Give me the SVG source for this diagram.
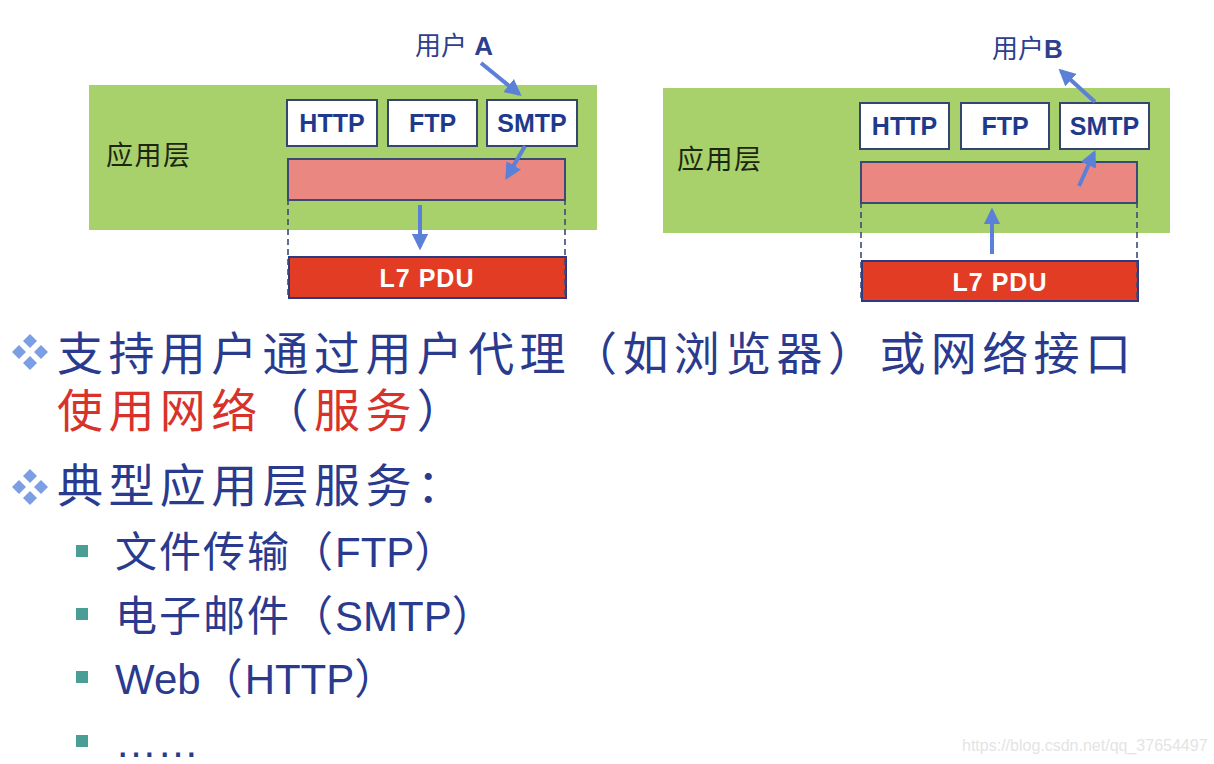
<svg xmlns="http://www.w3.org/2000/svg" width="1214" height="764" viewBox="0 0 1214 764">
<defs>
<style>
.layer{fill:#a8d16c;}
.proto{fill:#ffffff;stroke:#34466f;stroke-width:2;}
.ptxt{font-family:"Liberation Sans",Arial,sans-serif;font-weight:bold;font-size:25px;fill:#1f3a8c;text-anchor:middle;}
.pink{fill:#eb8781;stroke:#3b4a72;stroke-width:2;}
.pdu{fill:#e23c24;stroke:#2d3a80;stroke-width:2;}
.pdutxt{font-family:"Liberation Sans",Arial,sans-serif;font-weight:bold;font-size:25px;fill:#ffffff;text-anchor:middle;letter-spacing:1px;}
.dash{stroke:#3d4a7a;stroke-width:1.6;stroke-dasharray:6 4;fill:none;}
.lbl{font-family:"Noto Sans CJK SC","Liberation Sans",sans-serif;font-size:27px;fill:#1e2612;letter-spacing:1.5px;}
.user{font-family:"Liberation Sans","Noto Sans CJK SC",sans-serif;font-size:26px;fill:#2d3f8e;}
.arr{stroke:#5a80d8;stroke-width:4;fill:none;marker-end:url(#ah);}
.main{font-family:"Liberation Sans","Noto Sans CJK SC",sans-serif;font-size:46px;fill:#2a3b8f;letter-spacing:5.4px;}
.red{fill:#d7332b;}
.sub{font-family:"Liberation Sans","Noto Sans CJK SC",sans-serif;font-size:42px;fill:#2a3b8f;}
.cj{letter-spacing:2px;}
.dia{fill:#7c9ee3;}
.sq{fill:#4a9e96;}
</style>
<marker id="ah" viewBox="0 0 10 10" refX="8" refY="5" markerWidth="4.2" markerHeight="4.2" orient="auto" markerUnits="strokeWidth">
<path d="M0,0 L10,5 L0,10 z" fill="#5a80d8"/>
</marker>
</defs>
<rect width="1214" height="764" fill="#ffffff"/>

<!-- Left panel -->
<g id="left-layer">
<rect class="layer" x="89" y="85" width="508" height="145"/>
<text class="lbl" x="106" y="165">应用层</text>
</g>
<g id="left-http"><rect class="proto" x="287" y="100" width="90" height="46"/><text class="ptxt" x="332" y="132">HTTP</text></g>
<g id="left-ftp"><rect class="proto" x="388" y="100" width="89" height="46"/><text class="ptxt" x="432.5" y="132">FTP</text></g>
<g id="left-smtp"><rect class="proto" x="487" y="100" width="90" height="46"/><text class="ptxt" x="532" y="132">SMTP</text></g>
<g id="left-msg"><rect class="pink" x="288" y="159" width="277" height="41"/></g>
<g id="left-pdu"><rect class="pdu" x="289" y="257" width="277" height="41"/><text class="pdutxt" x="427" y="287">L7 PDU</text></g>
<g id="user-a"><text class="user" x="415" y="55">用户 <tspan font-weight="bold">A</tspan></text></g>

<!-- Right panel -->
<g id="right-layer">
<rect class="layer" x="663" y="88" width="507" height="145"/>
<text class="lbl" x="677" y="169">应用层</text>
</g>
<g id="right-http"><rect class="proto" x="860" y="103" width="89" height="46"/><text class="ptxt" x="904.5" y="135">HTTP</text></g>
<g id="right-ftp"><rect class="proto" x="961" y="103" width="88" height="46"/><text class="ptxt" x="1005" y="135">FTP</text></g>
<g id="right-smtp"><rect class="proto" x="1060" y="103" width="89" height="46"/><text class="ptxt" x="1104.5" y="135">SMTP</text></g>
<g id="right-msg"><rect class="pink" x="861" y="162" width="276" height="41"/></g>
<g id="right-pdu"><rect class="pdu" x="862" y="261" width="276" height="40"/><text class="pdutxt" x="1000" y="291">L7 PDU</text></g>
<g id="user-b"><text class="user" x="992" y="58">用户<tspan font-weight="bold">B</tspan></text></g>

<!-- Connectors -->
<g id="connectors">
<line class="dash" x1="288" y1="159" x2="288" y2="298"/>
<line class="dash" x1="565" y1="159" x2="565" y2="298"/>
<line class="dash" x1="861" y1="162" x2="861" y2="301"/>
<line class="dash" x1="1137" y1="162" x2="1137" y2="301"/>
<line class="arr" x1="481" y1="63" x2="519" y2="94"/>
<line class="arr" x1="525" y1="146" x2="507" y2="177"/>
<line class="arr" x1="420" y1="205" x2="420" y2="247"/>
<line class="arr" x1="1095" y1="102" x2="1061" y2="71"/>
<line class="arr" x1="1079" y1="186" x2="1094" y2="153"/>
<line class="arr" x1="992" y1="254" x2="992" y2="211"/>
</g>

<!-- Bullet text -->
<g id="bullet1">
<g class="dia">
<path d="M30,334 l7,7 l-7,7 l-7,-7 z"/>
<path d="M19,345 l7,7 l-7,7 l-7,-7 z"/>
<path d="M41,345 l7,7 l-7,7 l-7,-7 z"/>
<path d="M30,356 l7,7 l-7,7 l-7,-7 z"/>
</g>
<text class="main" x="57" y="370">支持用户通过用户代理（如浏览器）或网络接口</text>
<text class="main" x="57" y="427"><tspan class="red">使用网络</tspan>（<tspan class="red">服务</tspan>）</text>
</g>
<g id="bullet2">
<g class="dia">
<path d="M30,469 l7,7 l-7,7 l-7,-7 z"/>
<path d="M19,480 l7,7 l-7,7 l-7,-7 z"/>
<path d="M41,480 l7,7 l-7,7 l-7,-7 z"/>
<path d="M30,491 l7,7 l-7,7 l-7,-7 z"/>
</g>
<text class="main" x="57" y="502">典型应用层服务：</text>
</g>
<g id="sub-items">
<rect class="sq" x="76" y="545" width="12" height="12"/>
<text class="sub" x="115" y="567"><tspan class="cj">文件传输（</tspan>FTP<tspan class="cj">）</tspan></text>
<rect class="sq" x="76" y="608" width="12" height="12"/>
<text class="sub" x="115" y="631"><tspan class="cj">电子邮件（</tspan>SMTP<tspan class="cj">）</tspan></text>
<rect class="sq" x="76" y="671" width="12" height="12"/>
<text class="sub" x="115" y="694">Web<tspan class="cj">（</tspan>HTTP<tspan class="cj">）</tspan></text>
<rect class="sq" x="76" y="735" width="12" height="12"/>
<text class="sub" x="115" y="757">……</text>
</g>
<text x="962" y="751" font-family="Liberation Sans, Arial, sans-serif" font-size="16" fill="#e4e4e4">https://blog.csdn.net/qq_37654497</text>
</svg>
